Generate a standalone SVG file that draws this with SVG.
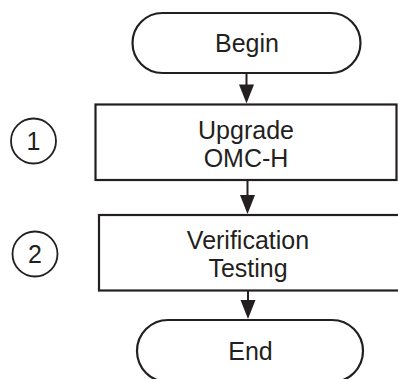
<svg xmlns="http://www.w3.org/2000/svg" width="398" height="379" viewBox="0 0 398 379">
<style>
.shape{fill:#fff;stroke:#231f20;stroke-width:2.2}
.circ{fill:#fff;stroke:#231f20;stroke-width:1.8}
.lbl{font-family:"Liberation Sans",Arial,sans-serif;font-size:25px;fill:#231f20;text-anchor:middle}
.line{stroke:#231f20;stroke-width:2}
.head{fill:#231f20}
</style>
<rect width="398" height="379" fill="#fff"/>
<g id="connectors">
<line class="line" x1="246.5" y1="73" x2="246.5" y2="100"/>
<path class="head" d="M239,84.5 L254,84.5 L246.5,103.5 Z"/>
<line class="line" x1="247.5" y1="180" x2="247.5" y2="210"/>
<path class="head" d="M240,195 L255,195 L247.5,214 Z"/>
<line class="line" x1="248" y1="291" x2="248" y2="315"/>
<path class="head" d="M240.5,300 L255.5,300 L248,319 Z"/>
</g>
<g id="begin">
<rect class="shape" x="132.5" y="13" width="228" height="60" rx="30" ry="30"/>
<text class="lbl" x="247" y="52">Begin</text>
</g>
<g id="upgrade">
<rect class="shape" x="95.5" y="104.5" width="301" height="75.5"/>
<text class="lbl" x="246" y="138.5">Upgrade</text>
<text class="lbl" x="246" y="167">OMC-H</text>
</g>
<g id="verification">
<rect class="shape" x="99" y="215" width="302" height="75.5"/>
<text class="lbl" x="248" y="248.5">Verification</text>
<text class="lbl" x="248" y="277">Testing</text>
</g>
<g id="end">
<rect class="shape" x="137" y="320" width="226" height="62" rx="31" ry="31"/>
<text class="lbl" x="250.5" y="360">End</text>
</g>
<g id="step1">
<circle class="circ" cx="33.5" cy="141" r="22.5"/>
<text class="lbl" x="33.5" y="150">1</text>
</g>
<g id="step2">
<circle class="circ" cx="35" cy="254" r="22.5"/>
<text class="lbl" x="35" y="263">2</text>
</g>
</svg>
